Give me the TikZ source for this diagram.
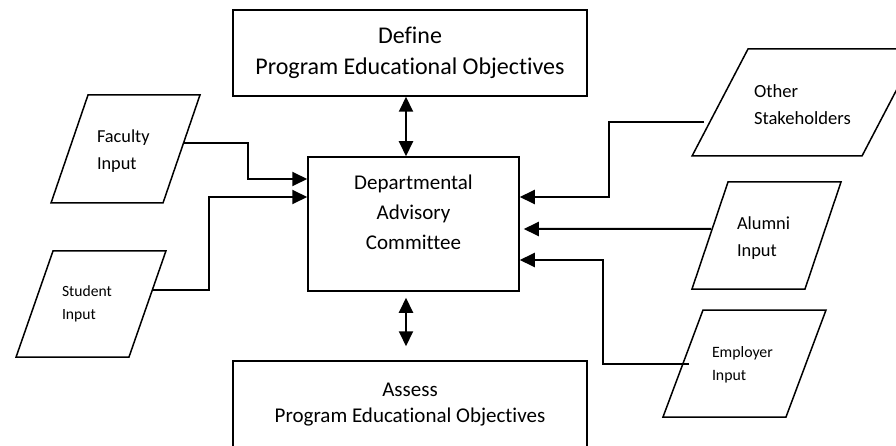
\documentclass[tikz,border=0pt]{standalone}
\usepackage{fontspec}
\setmainfont{Carlito}[Ligatures=NoCommon]
\usetikzlibrary{arrows.meta}
\usetikzlibrary{shapes.geometric}

\begin{document}
\begin{tikzpicture}[x=1pt, y=-1pt, >={Triangle[length=15pt,width=14pt]},
        box/.style={draw, rectangle, line width=1.5pt, align=center, inner sep=0pt},
        inbox/.style={draw, trapezium, line width=1.5pt, align=left, inner ysep=0pt, inner xsep=9pt},
        link/.style={line width=2pt}]
        \useasboundingbox (0,0) rectangle (896,446);
        \clip (0,0) rectangle (896,446);

        % objectives and committee
        \node[box, minimum width=354pt, minimum height=86pt, font=\fontsize{24}{31}\selectfont] at (410,53) (define) {Define\\Program Educational Objectives};
        \node[box, minimum width=211pt, minimum height=134pt, text depth=24pt, font=\fontsize{21}{30}\selectfont] at (413.5,224) (dac) {Departmental\\Advisory\\Committee};
        \node[box, minimum width=354pt, minimum height=89pt, text depth=6pt, font=\fontsize{21}{26}\selectfont] at (410,405.5) (assess) {Assess\\Program Educational Objectives};
        \draw[link, <->] ([xshift=-4pt]define.south) -- ([xshift=-7.5pt]dac.north);
        \draw[link, <->] ([shift={(-7.5,6)}]dac.south) -- ([shift={(-4,-14)}]assess.north);

        % left inputs
        \node[inbox, trapezium left angle=71.1, trapezium right angle=108.9, text width=57pt, text height=48pt, text depth=60pt, font=\fontsize{18.3}{27}\selectfont] at (125.5,149) (faculty) {Faculty\\Input};
        \node[inbox, trapezium left angle=70.8, trapezium right angle=109.2, text width=58pt, text height=45pt, text depth=61pt, font=\fontsize{15.6}{23}\selectfont] at (91,304) (student) {Student\\Input};
        \draw[link, ->] ([shift={(2,-6)}]faculty.east) -- ++(64,0) |- ([shift={(0,-45)}]dac.west);
        \draw[link, ->] ([shift={(4.5,-14)}]student.east) -- ++(56.5,0) |- ([shift={(0,-27)}]dac.west);

        % right inputs
        \node[inbox, inner xsep=6pt, trapezium left angle=62.4, trapezium right angle=117.6, text width=102pt, text height=49pt, text depth=58pt, font=\fontsize{18.6}{27}\selectfont] at (805,102.5) (other) {Other\\Stakeholders};
        \node[inbox, trapezium left angle=71.4, trapezium right angle=108.6, text width=59pt, text height=48pt, text depth=59pt, font=\fontsize{18.4}{27}\selectfont] at (766.5,235.5) (alumni) {Alumni\\Input};
        \node[inbox, trapezium left angle=69.5, trapezium right angle=110.5, text width=65pt, text height=47pt, text depth=60pt, font=\fontsize{15.8}{23}\selectfont] at (744.5,363.5) (employer) {Employer\\Input};
        \draw[link, ->] ([shift={(-15,19.5)}]other.west) -- ++(-95,0) |- ([shift={(0,-27)}]dac.east);
        \draw[link, ->] ([shift={(2,-6.5)}]alumni.west) -- ([shift={(4,5)}]dac.east);
        \draw[link, ->] ([xshift=7pt]employer.west) -- ++(-86,0) |- ([shift={(0,36)}]dac.east);
    \end{tikzpicture}
\end{document}
